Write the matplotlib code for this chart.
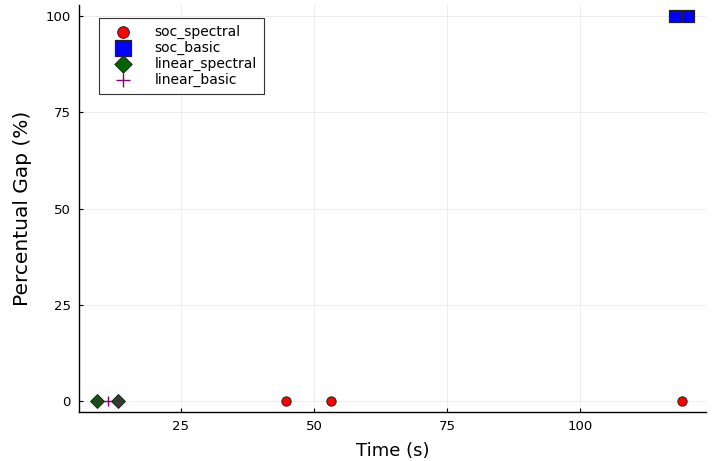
import matplotlib
matplotlib.use("Agg")
import matplotlib.pyplot as plt

soc_spectral_t = [44.7, 53.2, 119.2]
soc_spectral_gap = [0, 0, 0]
soc_basic_t = [117.9, 120.4]
soc_basic_gap = [100, 100]
linear_spectral_t = [9.2, 13.2]
linear_spectral_gap = [0, 0]
linear_basic_t = [9.2, 11.3, 13.2]
linear_basic_gap = [0, 0, 0]

xticks = [25, 50, 75, 100]
yticks = [0, 25, 50, 75, 100]

fig = plt.figure(figsize=(7.12, 4.61), dpi=100)
ax = fig.add_axes([0.111, 0.1063, 0.8806, 0.8827])

ax.scatter(soc_spectral_t, soc_spectral_gap, s=45, marker='o', color='#ff0000',
           edgecolors='#222222', linewidths=0.7, label='soc_spectral', zorder=3)
ax.scatter(soc_basic_t, soc_basic_gap, s=85, marker='s', color='#0000ff',
           edgecolors='#222222', linewidths=0.9, label='soc_basic', zorder=3)
ax.scatter(linear_spectral_t, linear_spectral_gap, s=50, marker='D', color='#006400',
           edgecolors='#222222', linewidths=0.7, label='linear_spectral', zorder=3)
ax.scatter(linear_basic_t, linear_basic_gap, s=60, marker='+', color='#800080',
           linewidths=1.0, label='linear_basic', zorder=4)

ax.set_xlim(5.85, 123.7)
ax.set_ylim(-2.86, 102.9)
ax.set_xticks(xticks)
ax.set_yticks(yticks)
ax.grid(True, color='#ededed', linewidth=0.7)
ax.set_axisbelow(True)
for side in ['top', 'right']:
    ax.spines[side].set_visible(False)
ax.spines['left'].set_linewidth(1.0)
ax.spines['bottom'].set_linewidth(1.0)
ax.tick_params(direction='in', length=3, labelsize=9.5, colors='black', pad=6)

ax.set_xlabel('Time (s)', fontsize=13, labelpad=6)
ax.set_ylabel('Percentual Gap (%)', fontsize=14.5, labelpad=10)

leg = ax.legend(loc='upper left', bbox_to_anchor=(0.032, 0.968), fontsize=10,
                frameon=True, fancybox=False, edgecolor='black',
                borderpad=0.5, labelspacing=0.12, handletextpad=1.0,
                handlelength=2.5, borderaxespad=0, scatterpoints=1,
                markerscale=1.25)
leg.get_frame().set_linewidth(0.8)

fig.savefig("out.png", dpi=100)
